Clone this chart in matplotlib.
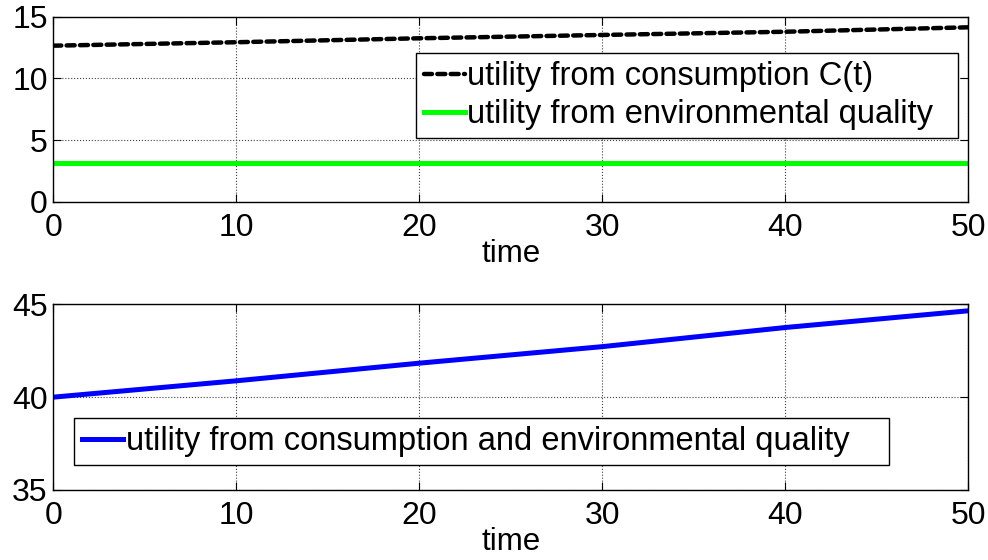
import matplotlib
matplotlib.use('Agg')
import matplotlib.pyplot as plt

plt.rcParams['font.family'] = ['Liberation Sans', 'DejaVu Sans']

# values
time = [0, 10, 20, 30, 40, 50]
u_consumption = [12.65, 12.93, 13.25, 13.52, 13.78, 14.14]
u_environment = [3.16, 3.16, 3.16, 3.16, 3.16, 3.16]
u_total = [40.0, 40.88, 41.83, 42.72, 43.75, 44.65]

xticks = [0, 10, 20, 30, 40, 50]
yticks_top = [0, 5, 10, 15]
yticks_bottom = [35, 40, 45]

W, H = 988, 560
fig = plt.figure(figsize=(W / 100, H / 100), dpi=100)
ax1 = fig.add_axes([53.3 / W, 1 - 201.7 / H, 915 / W, 185 / H])
ax2 = fig.add_axes([53.3 / W, 1 - 490 / H, 915 / W, 185.7 / H])


def style_axes(ax, yticks):
    ax.set_xlim(0, 50)
    ax.set_xticks(xticks)
    ax.set_ylim(yticks[0], yticks[-1])
    ax.set_yticks(yticks)
    ax.tick_params(direction='in', top=True, right=True, length=6, width=0.8,
                   labelsize=23, pad=4)
    ax.tick_params(axis='x', pad=8)
    ax.grid(True, linestyle=':', color='#404040', linewidth=0.8)
    for s in ax.spines.values():
        s.set_linewidth(1.0)
    ax.set_xlabel('time', fontsize=22.5, labelpad=-3)


def boxed_legend(ax, x0, x1, ytop):
    leg = ax.legend(loc='upper left', bbox_to_anchor=(x0, 0, x1 - x0, ytop),
                    mode='expand', borderaxespad=0, fontsize=23.5,
                    fancybox=False, edgecolor='black', framealpha=1,
                    handlelength=1.25, handletextpad=0.08, borderpad=0.25,
                    labelspacing=0.2)
    leg.get_frame().set_linewidth(1.0)
    return leg


line, = ax1.plot(time, u_consumption, color='black', lw=3.2,
                 label='utility from consumption C(t)',
                 dash_capstyle='round')
line.set_dashes([1.8, 1.2])
ax1.plot(time, u_environment, color='#00ff00', lw=3.6,
         label='utility from environmental quality')
style_axes(ax1, yticks_top)
boxed_legend(ax1, 0.396, 0.989, 0.802)

ax2.plot(time, u_total, color='#0000ff', lw=3.6,
         label='utility from consumption and environmental quality')
style_axes(ax2, yticks_bottom)
boxed_legend(ax2, 0.0226, 0.913, 0.388)

plt.savefig('out.png', dpi=100)
plt.close()
